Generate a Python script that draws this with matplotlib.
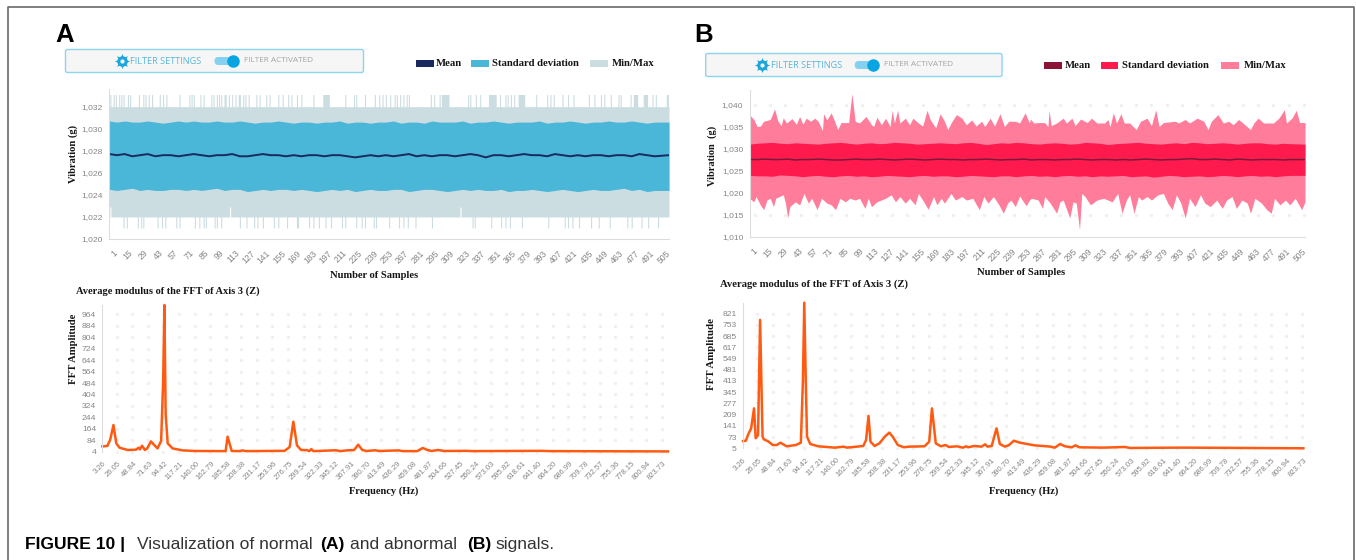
#!/usr/bin/env python
#
# Normal (A) and abnormal (B) vibration signals, with their FFT amplitude
#
import numpy as np
import matplotlib
matplotlib.use("Agg")
from matplotlib import pyplot as plt
from matplotlib.patches import FancyBboxPatch, Rectangle
from matplotlib.transforms import ScaledTranslation

######################################################
# Data
######################################################
sample_ticks = list(range(1, 506, 14))
freq_ticks = ["3.26", "26.05", "48.84", "71.63", "94.42", "117.21", "140.00", "162.79",
              "185.58", "208.38", "231.17", "253.96", "276.75", "299.54", "322.33",
              "345.12", "367.91", "390.70", "413.49", "436.29", "459.08", "481.87",
              "504.66", "527.45", "550.24", "573.03", "595.82", "618.61", "641.40",
              "664.20", "686.99", "709.78", "732.57", "755.36", "778.15", "800.94",
              "823.73"]
freq_tick_values = [float(f) for f in freq_ticks]

# Panel A, vibration. Max sits at 1032 and touches 1033 at these samples,
# min sits at 1022 and touches 1021 at these samples
a_max_base = 1032.0
a_max_spike = 1033.1
a_max_samples = [2, 5, 7, 10, 12, 14, 18, 20, 28, 32, 34, 37, 40, 47, 50, 53, 65, 74, 76, 78,
                 84, 87, 94, 96, 99, 101, 103, 106, 107, 110, 113, 116, 119, 120, 123, 125,
                 128, 135, 138, 144, 147, 155, 159, 164, 167, 172, 176, 187, 196, 197, 198,
                 199, 200, 201, 216, 224, 226, 234, 243, 247, 250, 253, 257, 261, 263, 266,
                 269, 272, 274, 294, 297, 302, 304, 305, 306, 307, 308, 309, 310, 328, 330,
                 335, 339, 347, 348, 349, 350, 351, 352, 353, 357, 362, 364, 367, 370, 374,
                 375, 376, 377, 378, 379, 390, 400, 403, 406, 414, 419, 424, 438, 443, 449,
                 452, 458, 465, 467, 476, 479, 480, 481, 482, 488, 489, 490, 491, 496, 499,
                 509, 510]
a_min_base = 1022.0
a_min_dip = 1021.0
a_min_samples = [14, 17, 27, 30, 32, 45, 49, 52, 62, 65, 79, 83, 87, 89, 97, 99, 103, 120, 126,
                 133, 136, 141, 151, 155, 163, 172, 173, 183, 187, 192, 198, 203, 213, 216,
                 226, 231, 234, 242, 244, 256, 265, 269, 273, 280, 295, 332, 334, 349, 358,
                 362, 366, 377, 401, 416, 419, 423, 429, 440, 447, 457, 473, 477, 486, 492,
                 501]
a_min_bump_x = [2, 111, 321]
a_min_bump_y = [1022.9, 1022.9, 1022.9]

# Standard deviation edges and mean, read every 7 samples up to the right edge
band_x = list(range(1, 505, 7)) + [511]
a_std_hi = [1030.7, 1030.6, 1030.7, 1030.6, 1030.6, 1030.7, 1030.6, 1030.5, 1030.6, 1030.7,
            1030.6, 1030.7, 1030.6, 1030.6, 1030.7, 1030.6, 1030.6, 1030.7, 1030.6, 1030.5,
            1030.6, 1030.6, 1030.7, 1030.6, 1030.5, 1030.6, 1030.6, 1030.5, 1030.6, 1030.6,
            1030.7, 1030.5, 1030.6, 1030.6, 1030.5, 1030.6, 1030.6, 1030.7, 1030.5, 1030.6,
            1030.6, 1030.5, 1030.7, 1030.6, 1030.6, 1030.6, 1030.7, 1030.5, 1030.6, 1030.6,
            1030.7, 1030.6, 1030.5, 1030.6, 1030.6, 1030.6, 1030.7, 1030.5, 1030.6, 1030.6,
            1030.7, 1030.6, 1030.5, 1030.6, 1030.6, 1030.7, 1030.6, 1030.6, 1030.7, 1030.6,
            1030.5, 1030.6, 1030.6]
a_std_lo = [1024.5, 1024.4, 1024.5, 1024.6, 1024.4, 1024.5, 1024.4, 1024.4, 1024.5, 1024.5,
            1024.4, 1024.5, 1024.4, 1024.5, 1024.6, 1024.4, 1024.5, 1024.5, 1024.3, 1024.4,
            1024.5, 1024.4, 1024.5, 1024.5, 1024.4, 1024.5, 1024.4, 1024.3, 1024.4, 1024.5,
            1024.4, 1024.5, 1024.3, 1024.4, 1024.5, 1024.4, 1024.4, 1024.5, 1024.5, 1024.3,
            1024.4, 1024.5, 1024.5, 1024.4, 1024.3, 1024.4, 1024.5, 1024.4, 1024.5, 1024.4,
            1024.4, 1024.5, 1024.3, 1024.4, 1024.4, 1024.5, 1024.4, 1024.3, 1024.4, 1024.5,
            1024.4, 1024.3, 1024.4, 1024.5, 1024.4, 1024.4, 1024.5, 1024.6, 1024.4, 1024.5,
            1024.3, 1024.4, 1024.4]
a_mean = [1027.7, 1027.6, 1027.7, 1027.5, 1027.6, 1027.7, 1027.5, 1027.6, 1027.6, 1027.5,
          1027.6, 1027.7, 1027.6, 1027.5, 1027.6, 1027.6, 1027.7, 1027.5, 1027.5, 1027.6,
          1027.7, 1027.6, 1027.6, 1027.5, 1027.6, 1027.5, 1027.6, 1027.6, 1027.5, 1027.6,
          1027.6, 1027.5, 1027.4, 1027.5, 1027.6, 1027.5, 1027.6, 1027.5, 1027.6, 1027.7,
          1027.5, 1027.6, 1027.5, 1027.6, 1027.6, 1027.5, 1027.6, 1027.7, 1027.6, 1027.4,
          1027.6, 1027.6, 1027.5, 1027.6, 1027.7, 1027.6, 1027.6, 1027.5, 1027.7, 1027.6,
          1027.5, 1027.6, 1027.5, 1027.6, 1027.6, 1027.5, 1027.6, 1027.6, 1027.5, 1027.7,
          1027.6, 1027.5, 1027.6]

# Panel B, vibration
b_max_x = [1, 5, 8, 11, 14, 20, 24, 27, 30, 32, 35, 40, 44, 47, 50, 53, 57, 61, 64, 68, 69, 72,
           76, 78, 82, 85, 92, 95, 98, 102, 108, 113, 115, 118, 122, 126, 130, 132, 134, 137,
           139, 144, 148, 151, 156, 160, 164, 167, 172, 176, 180, 183, 186, 191, 196, 200, 205,
           209, 214, 217, 222, 226, 231, 235, 239, 245, 249, 254, 258,
           259, 262, 266, 272, 275, 276, 278, 283, 289, 292, 297, 300, 305, 311, 315, 320, 327,
           330, 332, 335, 338, 342, 345, 350, 356, 360, 366, 370, 374, 377, 381, 392, 395, 401,
           405, 412, 418, 422, 425, 431, 436, 441, 445, 450, 454, 461, 464, 468, 473, 482, 487,
           492, 494, 499, 503, 506, 511]
b_max_y = [1037.8, 1036.7, 1035.1, 1035.2, 1036.3, 1036.7, 1039.1, 1036.4, 1035.3, 1037.1, 1035.9,
           1036.9, 1035.6, 1037.4, 1035.6, 1037.0, 1036.3, 1037.0, 1036.3, 1034.2, 1038.0, 1036.6,
           1038.2, 1037.0, 1034.4, 1036.0, 1036.0, 1042.6, 1036.3, 1035.9, 1037.4, 1035.5, 1035.1,
           1037.2, 1035.5, 1037.0, 1035.1, 1038.8, 1035.9, 1038.8, 1035.9, 1037.0, 1035.5, 1037.0,
           1035.9, 1035.2, 1038.8, 1036.6, 1034.8, 1038.0, 1036.3, 1034.4, 1035.9, 1037.8, 1037.0,
           1035.5, 1036.6, 1035.2, 1036.3, 1035.1, 1037.0, 1035.2, 1038.0, 1035.1, 1036.3, 1036.3,
           1035.9, 1038.2, 1035.9,
           1036.8, 1035.9, 1036.0, 1036.0, 1035.1, 1038.8, 1035.3, 1035.9, 1037.0, 1035.9, 1037.0,
           1035.3, 1036.8, 1036.0, 1037.0, 1035.9, 1035.9, 1036.7, 1035.1, 1038.2, 1035.9, 1038.0,
           1035.9, 1035.9, 1034.4, 1036.3, 1037.0, 1035.3, 1038.9, 1035.1, 1036.0, 1036.3, 1035.9,
           1036.7, 1035.9, 1037.0, 1036.3, 1034.4, 1036.3, 1037.8, 1035.9, 1036.3, 1035.5, 1036.7,
           1035.9, 1034.4, 1035.9, 1037.0, 1035.9, 1035.9, 1037.0, 1038.9, 1035.9, 1037.0, 1038.8,
           1036.0, 1036.0]
b_min_x = [1, 5, 7, 11, 14, 17, 20, 23, 25, 32, 34, 36, 38, 43, 47, 51, 55, 58, 61, 63, 67, 72,
           76, 80, 84, 89, 93, 98, 102, 107, 110, 113, 118, 122, 126, 131, 135, 139, 144, 148,
           153, 156, 161, 165, 170, 173, 177, 180, 186, 190, 196, 200, 206, 212, 216, 220, 225,
           230, 234, 238, 241, 245, 249, 255, 258,
           260, 266, 270, 272, 277, 283, 286, 289, 295, 298, 301, 304, 306, 309, 314, 320, 326,
           334, 339, 343, 347, 350, 354, 358, 361, 366, 370, 376, 381, 385, 389, 393, 397, 401,
           405, 410, 415, 419, 424, 430, 435, 439, 444, 448, 453, 458, 461, 465, 471, 476, 480,
           483, 488, 493, 497, 502, 508, 511]
b_min_y = [1018.8, 1018.0, 1019.2, 1017.3, 1016.2, 1018.4, 1018.8, 1016.9, 1018.8, 1019.6, 1017.7,
           1014.3, 1016.9, 1018.0, 1017.3, 1019.9, 1017.7, 1018.8, 1017.3, 1016.2, 1018.8, 1017.7,
           1017.3, 1016.2, 1018.8, 1018.0, 1018.8, 1018.4, 1018.8, 1016.5, 1018.8, 1016.9, 1018.0,
           1018.4, 1018.8, 1019.6, 1018.0, 1019.2, 1017.7, 1018.8, 1017.3, 1019.9, 1018.0, 1016.3,
           1019.2, 1017.3, 1018.8, 1017.7, 1019.9, 1018.4, 1019.2, 1018.4, 1018.8, 1016.2, 1019.2,
           1017.7, 1019.2, 1017.3, 1015.4, 1017.7, 1018.4, 1016.9, 1019.3, 1017.1, 1018.4,
           1018.8, 1018.4, 1016.5, 1019.2, 1017.7, 1015.4, 1018.0, 1018.4, 1014.3, 1018.0, 1017.7,
           1011.6, 1019.9, 1019.2, 1017.3, 1018.4, 1018.8, 1018.0, 1019.9, 1015.4, 1018.4, 1019.6,
           1015.4, 1019.2, 1018.4, 1019.2, 1018.4, 1019.6, 1019.9, 1017.7, 1016.2, 1019.6, 1017.7,
           1014.3, 1018.8, 1016.9, 1019.6, 1017.7, 1016.9, 1018.4, 1016.5, 1018.4, 1019.2, 1016.5,
           1018.4, 1017.7, 1015.4, 1018.8, 1017.7, 1016.2, 1015.4, 1018.8, 1017.3, 1018.4, 1017.3,
           1018.8, 1016.2, 1018.0]
b_std_hi = [1031.1, 1031.3, 1031.4, 1031.5, 1031.3, 1031.2, 1031.4, 1031.3, 1031.2, 1031.1,
            1031.3, 1031.4, 1031.5, 1031.3, 1031.1, 1031.3, 1031.4, 1031.2, 1031.3, 1031.5,
            1031.4, 1031.3, 1031.1, 1031.2, 1031.3, 1031.4, 1031.3, 1031.2, 1031.4, 1031.5,
            1031.3, 1031.0, 1031.2, 1031.4, 1031.3, 1031.5, 1031.4, 1031.2, 1031.1, 1031.3,
            1031.4, 1031.3, 1031.1, 1031.2, 1031.5, 1031.4, 1031.3, 1031.0, 1031.2, 1031.3,
            1031.4, 1031.5, 1031.3, 1031.2, 1031.1, 1031.3, 1031.4, 1031.2, 1031.5, 1031.4,
            1031.2, 1031.3, 1031.4, 1031.3, 1031.1, 1031.3, 1031.4, 1031.4, 1031.2, 1031.1,
            1031.3, 1031.2, 1031.1]
b_std_lo = [1024.0, 1023.9, 1023.9, 1023.8, 1024.1, 1024.0, 1023.9, 1023.7, 1023.9, 1024.0,
            1023.8, 1023.7, 1023.9, 1024.0, 1023.8, 1023.9, 1023.7, 1023.8, 1024.0, 1023.9,
            1023.8, 1023.7, 1023.9, 1024.0, 1023.8, 1023.9, 1023.9, 1023.7, 1023.8, 1024.0,
            1023.9, 1023.8, 1023.7, 1023.9, 1023.9, 1023.7, 1023.9, 1024.0, 1023.8, 1023.9,
            1023.7, 1023.9, 1024.0, 1023.8, 1023.9, 1023.7, 1023.9, 1023.8, 1023.9, 1024.0,
            1023.7, 1023.8, 1023.9, 1023.6, 1023.8, 1024.0, 1023.9, 1023.7, 1023.8, 1023.9,
            1023.7, 1023.8, 1024.0, 1023.9, 1023.7, 1023.9, 1024.0, 1023.8, 1023.9, 1023.7,
            1023.9, 1024.0, 1024.0]
b_mean = [1027.6, 1027.6, 1027.7, 1027.6, 1027.6, 1027.7, 1027.5, 1027.6, 1027.6, 1027.7,
          1027.6, 1027.5, 1027.5, 1027.6, 1027.7, 1027.6, 1027.6, 1027.7, 1027.6, 1027.5,
          1027.6, 1027.7, 1027.6, 1027.5, 1027.6, 1027.7, 1027.6, 1027.6, 1027.5, 1027.6,
          1027.6, 1027.7, 1027.6, 1027.5, 1027.6, 1027.6, 1027.7, 1027.5, 1027.6, 1027.6,
          1027.5, 1027.6, 1027.6, 1027.7, 1027.6, 1027.5, 1027.6, 1027.6, 1027.5, 1027.6,
          1027.5, 1027.6, 1027.7, 1027.6, 1027.5, 1027.6, 1027.6, 1027.7, 1027.8, 1027.6,
          1027.6, 1027.7, 1027.6, 1027.5, 1027.7, 1027.6, 1027.5, 1027.6, 1027.6, 1027.6,
          1027.5, 1027.6, 1027.6]

# FFT
a_fft_hz = [3.26, 10.4, 14.6, 19.4, 23.6, 28.3, 40.3, 52.2, 56.4, 58.2, 61.2, 65.4, 68.9, 74.3,
            79.1, 83.9, 89.2, 92.2, 94.0, 95.8, 98.8, 106, 120.9, 138.8, 183.6, 186.5, 192.5,
            204.5, 208, 213.4, 270, 277.3, 282.7, 288, 294, 303, 306, 309, 312, 345, 351, 361,
            371.6, 377.6, 383.6, 389.5, 402.6, 407.4, 437, 443, 464, 472, 479, 485, 494.6, 503,
            536, 545, 646, 658, 831]
a_fft_amp = [41, 44, 86, 190, 62, 32, 16, 18, 32, 20, 46, 16, 27, 76, 51, 27, 79, 500, 1029, 272,
             62, 27, 13, 9, 8, 109, 9, 8, 13, 8, 10, 37, 214, 48, 16, 15, 8, 22, 8, 14, 8, 13,
             16, 53, 16, 9, 14, 9, 13, 8, 8, 30, 16, 9, 16, 9, 10, 8, 10, 8, 6]
b_fft_hz = [3.26, 7.4, 11, 15.2, 19.4, 21.8, 25.3, 28.3, 31.9, 33.7, 40.9, 46.8, 52.8, 58.2, 67.1,
            80.8, 88, 91, 93, 95.2, 97, 101.8, 113.7, 137.6, 150.7, 155.5, 179.4, 183.5, 187.1,
            190, 196, 203, 212, 217.6, 222.4, 230, 239, 246, 269, 276, 280, 285.6, 293, 300,
            304.7, 316.7, 325.6, 330, 333, 342, 352.5, 358, 361.5, 367.5, 374.6, 379.4, 387,
            393, 400, 409, 430, 454, 460, 467.7, 475, 485, 490, 496, 531.6, 562.6, 570, 639,
            657, 824]
b_fft_amp = [49, 51, 90, 126, 247, 66, 86, 783, 76, 60, 45, 25, 25, 39, 17, 25, 39, 415, 887, 415,
             76, 31, 17, 9, 15, 9, 19, 55, 201, 45, 19, 35, 80, 100, 76, 25, 11, 15, 17, 45, 247,
             35, 17, 25, 13, 17, 9, 17, 11, 19, 15, 29, 15, 19, 126, 31, 15, 25, 51, 39, 23, 15,
             9, 31, 17, 11, 23, 11, 9, 13, 7, 9, 9, 5]

a_fft_ticks = list(range(4, 965, 80))
b_fft_ticks = list(range(5, 822, 68))

######################################################
# Settings
######################################################
W = 1356
H = 560
matplotlib.rcParams['font.family'] = ['Liberation Sans', 'DejaVu Sans']

orange = '#ff5a12'
tick_grey = '#858585'
dot_grey = '#f0f0f0'
axis_grey = '#dddddd'

fig = plt.figure(figsize=(W / 100.0, H / 100.0), dpi=100)

# Everything that is not a chart gets placed in pixels on this one
bg = fig.add_axes([0, 0, 1, 1])
bg.set_xlim(0, W)
bg.set_ylim(H, 0)
bg.axis('off')


def make_axes(left, right, top, bottom):
    ax = fig.add_axes([left / W, 1 - bottom / H, (right - left) / W, (bottom - top) / H])
    ax.patch.set_alpha(0)
    for side in ['top', 'right']:
        ax.spines[side].set_visible(False)
    ax.spines['left'].set_color(axis_grey)
    ax.spines['bottom'].set_color(axis_grey)
    ax.tick_params(axis='y', length=0, labelsize=6.1, labelcolor=tick_grey, pad=4.5)
    ax.tick_params(axis='x', length=0, labelsize=6.2, labelcolor=tick_grey, pad=7)
    return ax


def x_labels(ax, ticks, labels, shift=3.0):
    ax.set_xticks(ticks)
    ax.set_xticklabels(labels, rotation=45, ha='right', va='top', rotation_mode='anchor')
    # labels sit a little to the right of their tick in the original
    nudge = ScaledTranslation(shift / 100.0, 0, fig.dpi_scale_trans)
    for lab in ax.get_xticklabels():
        lab.set_transform(lab.get_transform() + nudge)


def serif_label(x, y, s, size=7.6, rotation=0, ha='center'):
    bg.text(x, y, s, family='Liberation Serif', weight='bold', fontsize=size, color='#151515',
            rotation=rotation, ha=ha, va='center')


def filter_bar(left, right, top, bottom):
    bg.add_patch(FancyBboxPatch((left + 2, top + 2), right - left - 4, bottom - top - 4,
                                boxstyle='round,pad=2,rounding_size=2', fc='#f6f6f6',
                                ec='#8cd5ee', lw=1.0))
    mid = (top + bottom) / 2.0
    # gear
    gear_x = left + 56.5
    bg.plot([gear_x], [mid], marker=(8, 1, 0), ms=11, color='#1ea6dc', mew=0)
    bg.plot([gear_x], [mid], 'o', ms=7.5, color='#1ea6dc', mew=0)
    bg.plot([gear_x], [mid], 'o', ms=3, color='#f6f6f6', mew=0)
    bg.text(left + 65, mid + 0.5, 'FILTER SETTINGS', family='Open Sans', fontsize=6.6,
            color='#58b6da', ha='left', va='center')
    bg.add_patch(FancyBboxPatch((left + 149, mid - 4), 20, 8, boxstyle='round,pad=0,rounding_size=4',
                                fc='#84d2ef', ec='none'))
    bg.plot([left + 167], [mid], 'o', ms=9, color='#08a5e2', mew=0)
    bg.text(left + 178.5, mid - 0.5, 'FILTER ACTIVATED', family='Open Sans', fontsize=5.95,
            color='#a4a4a4', ha='left', va='center')


def legend_row(y, swatch_x, text_x, colours):
    names = ['Mean', 'Standard deviation', 'Min/Max']
    for sx, tx, col, name in zip(swatch_x, text_x, colours, names):
        bg.add_patch(Rectangle((sx, y - 3), 17.5, 6.5, fc=col, ec='none'))
        serif_label(tx, y, name, size=7.7, ha='left')


def vibration(ax, low, high, std_lo, std_hi, mean, fill_col, std_col, mean_col, lw, step=None):
    ax.fill_between(low[0], low[1], 1027.5, color=fill_col, lw=0, step=step)
    ax.fill_between(high[0], high[1], 1027.5, color=fill_col, lw=0, step=step)
    ax.fill_between(band_x, std_lo, std_hi, color=std_col, lw=0)
    ax.plot(band_x, mean, color=mean_col, lw=lw)


def dot_grid(ax, xs, ys):
    gx, gy = np.meshgrid(xs, ys)
    ax.scatter(gx.ravel(), gy.ravel(), s=6, color=dot_grey, lw=0, zorder=0, clip_on=False)


def fft(ax, hz, amp, yticks, ymax, xmax):
    dot_grid(ax, np.array(freq_tick_values[:-1]) + 21, yticks)
    ax.plot(hz, amp, color=orange, lw=1.8, solid_joinstyle='round', clip_on=False)
    ax.set_xlim(3.26, xmax)
    ax.set_ylim(yticks[0], ymax)
    ax.set_yticks(yticks)
    x_labels(ax, freq_tick_values, freq_ticks, shift=2.0)
    ax.tick_params(axis='x', pad=6, labelsize=5.5)
    ax.spines['bottom'].set_visible(False)


######################################################
# Panel frame, letters, caption
######################################################
bg.plot([8, 8, 1353.5, 1353.5], [560, 6.5, 6.5, 560], color='#6a6a6a', lw=1.2)
bg.text(55.5, 42, 'A', weight='bold', fontsize=18.5, color='black', ha='left', va='baseline')
bg.text(694.5, 42, 'B', weight='bold', fontsize=18.5, color='black', ha='left', va='baseline')

caption_text = ['FIGURE 10 |', 'Visualization of normal', '(A)', 'and abnormal', '(B)', 'signals.']
caption_weight = ['bold', 'normal', 'bold', 'normal', 'bold', 'normal']
caption_x = [25, 137, 320, 350, 467, 496]
for piece, wgt, cx in zip(caption_text, caption_weight, caption_x):
    bg.text(cx, 549, piece, fontsize=12.6, weight=wgt, ha='left', va='baseline',
            color='black' if wgt == 'bold' else '#333333')

######################################################
# Panel A
######################################################
filter_bar(65.5, 363.5, 49.5, 72.5)
legend_row(63.3, [416, 471, 590], [436, 491.5, 611.5], ['#1a2a5e', '#4ab6d8', '#ccdde2'])

ax1 = make_axes(109.3, 669, 89, 239)
a_x = np.arange(1, 512)
a_max = np.full(a_x.size, a_max_base)
a_max[np.array(a_max_samples) - 1] = a_max_spike
a_min = np.full(a_x.size, a_min_base)
a_min[np.array(a_min_samples) - 1] = a_min_dip
a_min[np.array(a_min_bump_x) - 1] = a_min_bump_y
vibration(ax1, (a_x, a_min), (a_x, a_max), a_std_lo, a_std_hi, a_mean,
          '#ccdde2', '#4ab6d8', '#1a2a5e', 1.4, step='mid')
ax1.set_xlim(1, 511)
ax1.set_ylim(1020, 1033.6)
ax1.set_yticks(range(1020, 1033, 2))
ax1.set_yticklabels(['1,020', '1,022', '1,024', '1,026', '1,028', '1,030', '1,032'])
x_labels(ax1, sample_ticks, sample_ticks)
serif_label(73, 154, 'Vibration (g)', rotation=90)
serif_label(374, 275, 'Number of Samples')

serif_label(76, 290.7, 'Average modulus of the FFT of Axis 3 (Z)', size=7.5, ha='left')
ax2 = make_axes(102.4, 668, 305, 451.7)
fft(ax2, a_fft_hz, a_fft_amp, a_fft_ticks, 1029, 831)
serif_label(73, 349, 'FFT Amplitude', size=7.7, rotation=90)
serif_label(383.7, 491, 'Frequency (Hz)', size=7.5)

######################################################
# Panel B
######################################################
filter_bar(705.7, 1002, 53.5, 76.5)
legend_row(65.3, [1044, 1100.7, 1221], [1065, 1121.5, 1243.4], ['#8a1436', '#ff1a4e', '#ff7d9b'])

ax3 = make_axes(749.5, 1305, 90, 237)
dot_grid(ax3, np.array(sample_ticks) + 5, [1015, 1040])
vibration(ax3, (b_min_x, b_min_y), (b_max_x, b_max_y), b_std_lo, b_std_hi, b_mean,
          '#ff7d9b', '#ff1a4e', '#7a1a3a', 1.1)
ax3.set_xlim(1, 511)
ax3.set_ylim(1010, 1043.4)
ax3.set_yticks(range(1010, 1041, 5))
ax3.set_yticklabels(['1,010', '1,015', '1,020', '1,025', '1,030', '1,035', '1,040'])
x_labels(ax3, sample_ticks, sample_ticks)
serif_label(711.8, 155.7, 'Vibration  (g)', size=7.5, rotation=90)
serif_label(1020.8, 272.3, 'Number of Samples')

serif_label(719.5, 284.5, 'Average modulus of the FFT of Axis 3 (Z)', size=7.7, ha='left')
ax4 = make_axes(743, 1303.7, 302.7, 448.3)
fft(ax4, b_fft_hz, b_fft_amp, b_fft_ticks, 887, 824.5)
serif_label(711, 354, 'FFT Amplitude', size=7.8, rotation=90)
serif_label(1023.7, 490.7, 'Frequency (Hz)', size=7.5)

fig.savefig('out.png', dpi=100)
